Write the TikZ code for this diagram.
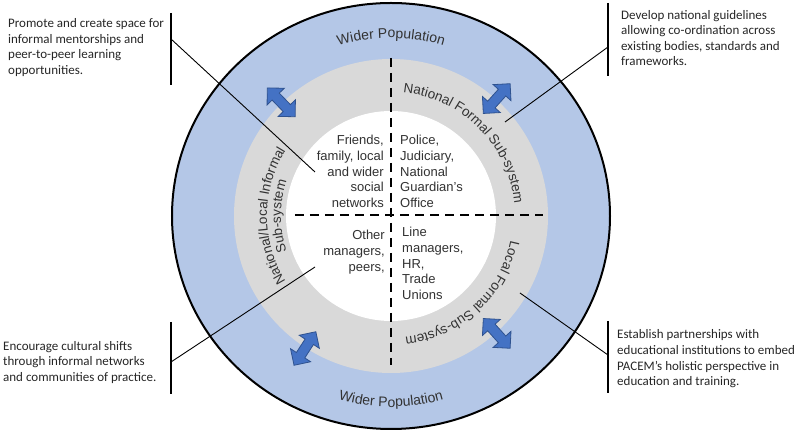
\documentclass[tikz,border=0pt]{standalone}
\usepackage{fontspec}
\setmainfont{Liberation Sans}
\newfontfamily\calibri{Carlito}
\usetikzlibrary{decorations.text}
\definecolor{widerblue}{RGB}{180,199,231}
\definecolor{ringgray}{RGB}{217,217,217}
\definecolor{arrowblue}{RGB}{68,114,196}
\definecolor{arrowedge}{RGB}{47,82,143}
\definecolor{labeltext}{RGB}{50,50,50}

\begin{document}
\begin{tikzpicture}[x=1pt, y=1pt,
  quadtext/.style={inner sep=0pt, font=\fontsize{13}{15.7}\selectfont, text=labeltext},
  callout/.style={inner sep=0pt, anchor=west, align=left, font=\calibri\fontsize{13}{15.6}\selectfont, text=black!85},
  bracket/.style={line width=1.5pt},
  leader/.style={line width=0.9pt},
  divider/.style={line width=2.5pt, dash pattern=on 9pt off 6pt},
  biarrow/.style={fill=arrowblue, draw=arrowedge, line width=0.8pt, line join=miter}]
  \useasboundingbox (-391,-219) rectangle (409,216);

  % rings
  \filldraw[fill=widerblue, draw=black, line width=2pt] (0,0) ellipse [x radius=219, y radius=213];
  \fill[ringgray] (0,0) circle [radius=157];
  \fill[white] (0,0) circle [radius=105];
  \draw[divider] (0,158) -- (0,-149);
  \draw[divider] (-96,1) -- (152,1);

  % quadrants
  \node[quadtext, anchor=east, align=right] (friends) at (-7,44.5) {Friends,\\family, local\\and wider\\social\\networks};
  \node[quadtext, anchor=west, align=left] (police) at (9,44.5) {Police,\\Judiciary,\\National\\Guardian’s\\Office};
  \node[quadtext, anchor=east, align=right] (others) at (-6,-36) {Other\\managers,\\peers,};
  \node[quadtext, anchor=west, align=left] (linemgr) at (11,-47.5) {Line\\managers,\\HR,\\Trade\\Unions};

  % ring labels
  \path[decorate, decoration={text along path, text align=center, text color=labeltext,
    text={|\fontsize{14}{14}\selectfont|Wider Population}}] (125:178) arc[start angle=125, end angle=55, radius=178];
  \path[decorate, decoration={text along path, text align=center, text color=labeltext,
    text={|\fontsize{14}{14}\selectfont|Wider Population}}] (235:191) arc[start angle=235, end angle=305, radius=191];
  \path[decorate, decoration={text along path, text align=center, text color=labeltext,
    text={|\fontsize{13.5}{13.5}\selectfont|National Formal Sub-system}}] (100:124) arc[start angle=100, end angle=-10, radius=124];
  \path[decorate, decoration={text along path, text align=center, text color=labeltext,
    text={|\fontsize{13.5}{13.5}\selectfont|Local Formal Sub-system}}] (5:122) arc[start angle=5, end angle=-100, radius=122];
  \path[decorate, decoration={text along path, text align=center, text color=labeltext,
    text={|\fontsize{13.5}{13.5}\selectfont|National/Local Informal}}] (235:124) arc[start angle=235, end angle=125, radius=124];
  \path[decorate, decoration={text along path, text align=center, text color=labeltext,
    text={|\fontsize{13.5}{13.5}\selectfont|Sub-system}}] (235:110) arc[start angle=235, end angle=125, radius=110];

  % exchange arrows
  \foreach \a in {134,48,237,312}
    \draw[biarrow, shift={(\a:158)}, rotate=\a] (-20,0) -- (-8,12) -- (-8,5) -- (8,5) -- (8,12) -- (20,0)
      -- (8,-12) -- (8,-5) -- (-8,-5) -- (-8,-12) -- cycle;

  % callouts
  \node[callout] (promote) at (-383,168.5) {Promote and create space for\\informal mentorships and\\peer-to-peer learning\\opportunities.};
  \node[callout] (develop) at (230,178) {Develop national guidelines\\allowing co-ordination across\\existing bodies, standards and\\frameworks.};
  \node[callout] (encourage) at (-388,-146.5) {Encourage cultural shifts\\through informal networks\\and communities of practice.};
  \node[callout] (establish) at (226,-143) {Establish partnerships with\\educational institutions to embed\\PACEM’s holistic perspective in\\education and training.};

  \coordinate (promote top) at (-220,203);
  \coordinate (promote bot) at (-220,131);
  \coordinate (promote tip) at (-76,44);
  \coordinate (develop top) at (217,213);
  \coordinate (develop bot) at (217,140);
  \coordinate (develop tip) at (114,94);
  \coordinate (encourage top) at (-220,-106);
  \coordinate (encourage bot) at (-220,-178);
  \coordinate (encourage tip) at (-76,-51);
  \coordinate (establish top) at (217,-105);
  \coordinate (establish bot) at (217,-177);
  \coordinate (establish tip) at (129,-77);

  \draw[bracket] (promote top) -- (promote bot);
  \draw[bracket] (develop top) -- (develop bot);
  \draw[bracket] (encourage top) -- (encourage bot);
  \draw[bracket] (establish top) -- (establish bot);
  \draw[leader] (-220,177) -- (promote tip);
  \draw[leader] (217,169) -- (develop tip);
  \draw[leader] (-220,-146) -- (encourage tip);
  \draw[leader] (217,-139) -- (establish tip);
\end{tikzpicture}
\end{document}
